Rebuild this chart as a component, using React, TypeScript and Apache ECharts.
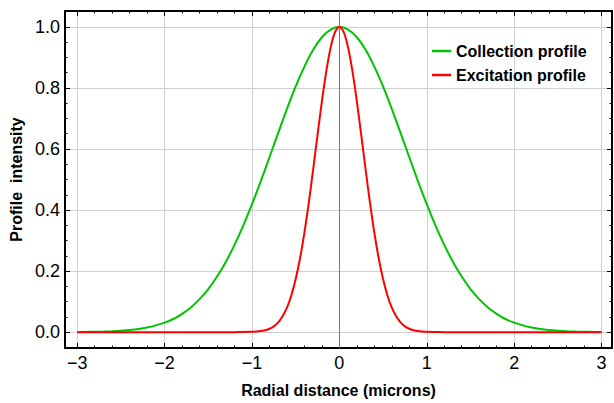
import React, { useEffect, useRef } from "react";
import * as echarts from "echarts";

// Tick values
const X_MAJOR = [-3, -2, -1, 0, 1, 2, 3];
const X_MINOR = [
  -3.0, -2.8, -2.6, -2.4, -2.2, -2.0, -1.8, -1.6, -1.4, -1.2, -1.0, -0.8, -0.6, -0.4, -0.2, 0,
  0.2, 0.4, 0.6, 0.8, 1.0, 1.2, 1.4, 1.6, 1.8, 2.0, 2.2, 2.4, 2.6, 2.8, 3.0,
];
const Y_MAJOR = [0, 0.2, 0.4, 0.6, 0.8, 1.0];
const Y_MINOR = [
  0, 0.05, 0.1, 0.15, 0.2, 0.25, 0.3, 0.35, 0.4, 0.45, 0.5, 0.55, 0.6, 0.65, 0.7, 0.75, 0.8,
  0.85, 0.9, 0.95, 1.0,
];

// Collection profile (green)
const X_COLLECTION = [
  -3.0, -2.9, -2.8, -2.7, -2.6, -2.5, -2.4, -2.3, -2.2, -2.1, -2.0, -1.9, -1.8, -1.7, -1.6, -1.5,
  -1.4, -1.3, -1.2, -1.1, -1.0, -0.9, -0.8, -0.7, -0.6, -0.5, -0.4, -0.3, -0.2, -0.1, 0.0, 0.1,
  0.2, 0.3, 0.4, 0.5, 0.6, 0.7, 0.8, 0.9, 1.0, 1.1, 1.2, 1.3, 1.4, 1.5, 1.6, 1.7, 1.8, 1.9, 2.0,
  2.1, 2.2, 2.3, 2.4, 2.5, 2.6, 2.7, 2.8, 2.9, 3.0,
];
const Y_COLLECTION = [
  0.0004, 0.0007, 0.0011, 0.0018, 0.0028, 0.0044, 0.0067, 0.01, 0.015, 0.022, 0.031, 0.043, 0.06,
  0.081, 0.108, 0.141, 0.182, 0.23, 0.286, 0.349, 0.419, 0.494, 0.573, 0.653, 0.731, 0.805, 0.87,
  0.925, 0.966, 0.991, 1.0, 0.991, 0.966, 0.925, 0.87, 0.805, 0.731, 0.653, 0.573, 0.494, 0.419,
  0.349, 0.286, 0.23, 0.182, 0.141, 0.108, 0.081, 0.06, 0.043, 0.031, 0.022, 0.015, 0.01, 0.0067,
  0.0044, 0.0028, 0.0018, 0.0011, 0.0007, 0.0004,
];

// Excitation profile (red)
const X_EXCITATION = [
  -3.0, -1.2, -1.1, -1.0, -0.95, -0.9, -0.85, -0.8, -0.75, -0.7, -0.65, -0.6, -0.55, -0.5, -0.45,
  -0.4, -0.35, -0.3, -0.25, -0.2, -0.15, -0.1, -0.05, 0.0, 0.05, 0.1, 0.15, 0.2, 0.25, 0.3, 0.35,
  0.4, 0.45, 0.5, 0.55, 0.6, 0.65, 0.7, 0.75, 0.8, 0.85, 0.9, 0.95, 1.0, 1.1, 1.2, 3.0,
];
const Y_EXCITATION = [
  0, 0, 0.0002, 0.0009, 0.0018, 0.0034, 0.0064, 0.011, 0.019, 0.032, 0.052, 0.08, 0.12, 0.174,
  0.242, 0.326, 0.424, 0.533, 0.646, 0.756, 0.854, 0.932, 0.983, 1.0, 0.983, 0.932, 0.854, 0.756,
  0.646, 0.533, 0.424, 0.326, 0.242, 0.174, 0.12, 0.08, 0.052, 0.032, 0.019, 0.011, 0.0064, 0.0034,
  0.0018, 0.0009, 0.0002, 0, 0,
];

const X_MIN = -3.14;
const X_MAX = 3.12;
const Y_MIN = -0.052;
const Y_MAX = 1.052;

const FONT = "'Liberation Sans', Arial, sans-serif";

export default function App() {
  const ref = useRef<HTMLDivElement>(null);

  useEffect(() => {
    if (!ref.current) return;
    const chart = echarts.init(ref.current, null, { renderer: "svg" });

    const frameLine = { show: true, onZero: false, lineStyle: { color: "#000", width: 2 } };
    const noLine = { show: false, onZero: false };
    const fmtX = (v: number) => (v < 0 ? "\u2212" + Math.abs(v) : String(v));

    const xBase = { type: "value", min: X_MIN, max: X_MAX, gridIndex: 0 };
    const yBase = { type: "value", min: Y_MIN, max: Y_MAX, gridIndex: 0 };
    const tickStyle = { color: "#000", width: 1 };

    const option = {
      animation: false,
      backgroundColor: "#fff",
      grid: { left: 63, right: 2, top: 11, bottom: 54, containLabel: false },
      legend: {
        orient: "vertical",
        left: 427,
        top: 38,
        icon: "rect",
        itemWidth: 19,
        itemHeight: 2.5,
        itemGap: 8,
        textStyle: { fontFamily: FONT, fontSize: 16, fontWeight: "bold", color: "#000" },
        data: ["Collection profile", "Excitation profile"],
      },
      xAxis: [
        {
          ...xBase,
          position: "bottom",
          axisLine: frameLine,
          axisTick: { show: true, inside: true, length: 5, customValues: X_MAJOR, lineStyle: tickStyle },
          axisLabel: {
            customValues: X_MAJOR,
            formatter: fmtX,
            fontFamily: FONT,
            fontSize: 18,
            color: "#000",
            margin: 6,
          },
          splitLine: { show: true, lineStyle: { color: "#d0d0d0", width: 1 } },
          name: "Radial distance (microns)",
          nameLocation: "middle",
          nameGap: 34,
          nameTextStyle: { fontFamily: FONT, fontSize: 16, fontWeight: "bold", color: "#000" },
        },
        {
          ...xBase,
          position: "bottom",
          axisLine: noLine,
          axisTick: { show: true, inside: true, length: 2.5, customValues: X_MINOR, lineStyle: tickStyle },
          axisLabel: { show: false },
          splitLine: { show: false },
        },
        {
          ...xBase,
          position: "top",
          axisLine: frameLine,
          axisTick: { show: true, inside: true, length: 5, customValues: X_MAJOR, lineStyle: tickStyle },
          axisLabel: { show: false },
          splitLine: { show: false },
        },
        {
          ...xBase,
          position: "top",
          axisLine: noLine,
          axisTick: { show: true, inside: true, length: 2.5, customValues: X_MINOR, lineStyle: tickStyle },
          axisLabel: { show: false },
          splitLine: { show: false },
        },
      ],
      yAxis: [
        {
          ...yBase,
          position: "left",
          axisLine: frameLine,
          axisTick: { show: true, inside: true, length: 5, customValues: Y_MAJOR, lineStyle: tickStyle },
          axisLabel: {
            customValues: Y_MAJOR,
            formatter: (v: number) => v.toFixed(1),
            fontFamily: FONT,
            fontSize: 18,
            color: "#000",
            margin: 5,
          },
          splitLine: { show: true, lineStyle: { color: "#d0d0d0", width: 1 } },
          name: "Profile  intensity",
          nameLocation: "middle",
          nameGap: 41,
          nameTextStyle: { fontFamily: FONT, fontSize: 16, fontWeight: "bold", color: "#000" },
        },
        {
          ...yBase,
          position: "left",
          axisLine: noLine,
          axisTick: { show: true, inside: true, length: 2.5, customValues: Y_MINOR, lineStyle: tickStyle },
          axisLabel: { show: false },
          splitLine: { show: false },
        },
        {
          ...yBase,
          position: "right",
          axisLine: frameLine,
          axisTick: { show: true, inside: true, length: 5, customValues: Y_MAJOR, lineStyle: tickStyle },
          axisLabel: { show: false },
          splitLine: { show: false },
        },
        {
          ...yBase,
          position: "right",
          axisLine: noLine,
          axisTick: { show: true, inside: true, length: 2.5, customValues: Y_MINOR, lineStyle: tickStyle },
          axisLabel: { show: false },
          splitLine: { show: false },
        },
      ],
      series: [
        {
          name: "Collection profile",
          type: "line",
          xAxisIndex: 0,
          yAxisIndex: 0,
          data: X_COLLECTION.map((x, i) => [x, Y_COLLECTION[i]]),
          showSymbol: false,
          symbol: "none",
          smooth: 0.3,
          lineStyle: { color: "#00c400", width: 2 },
          itemStyle: { color: "#00c400" },
          markLine: {
            silent: true,
            symbol: "none",
            label: { show: false },
            lineStyle: { color: "#777", width: 1, type: "solid" },
            data: [{ xAxis: 0 }],
          },
          z: 2,
        },
        {
          name: "Excitation profile",
          type: "line",
          xAxisIndex: 0,
          yAxisIndex: 0,
          data: X_EXCITATION.map((x, i) => [x, Y_EXCITATION[i]]),
          showSymbol: false,
          symbol: "none",
          smooth: 0.3,
          lineStyle: { color: "#ff0000", width: 2 },
          itemStyle: { color: "#ff0000" },
          z: 3,
        },
      ],
    };

    chart.setOption(option as any);
    return () => chart.dispose();
  }, []);

  return (
    <div
      ref={ref}
      style={{ position: "fixed", left: 0, top: 0, width: 614, height: 403, background: "#fff" }}
    />
  );
}
